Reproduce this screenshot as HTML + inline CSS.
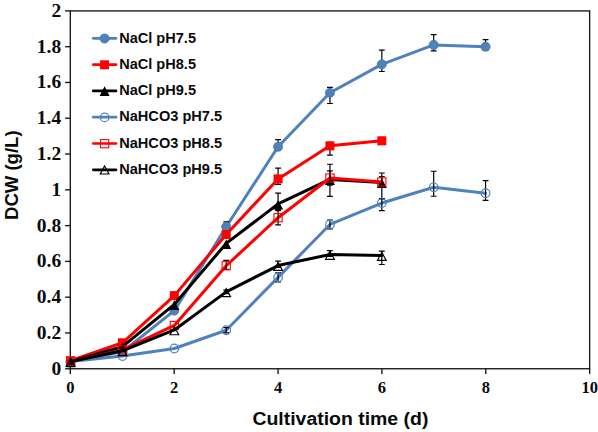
<!DOCTYPE html>
<html><head><meta charset="utf-8"><title>DCW chart</title>
<style>
html,body{margin:0;padding:0;background:#fff;}
body{width:598px;height:432px;overflow:hidden;}
svg{display:block;}
.tk{font-family:"Liberation Serif",serif;font-weight:bold;font-size:19.5px;fill:#0a0a0a;}
.tx{font-family:"Liberation Serif",serif;font-weight:bold;font-size:16.5px;fill:#0a0a0a;}
.lg{font-family:"Liberation Sans",sans-serif;font-weight:bold;font-size:14px;fill:#0a0a0a;}
.ti{font-family:"Liberation Sans",sans-serif;font-weight:bold;font-size:18.3px;fill:#0a0a0a;}
</style></head><body>
<svg width="598" height="432" viewBox="0 0 598 432">
<rect x="0" y="0" width="598" height="432" fill="#ffffff"/>

<g stroke="#161616" stroke-width="1.35" fill="none" stroke-linecap="butt">
<rect x="70.3" y="10.9" width="519.35" height="357.85"/>
<line x1="65.10" y1="368.75" x2="70.30" y2="368.75"/>
<line x1="65.10" y1="332.96" x2="70.30" y2="332.96"/>
<line x1="65.10" y1="297.18" x2="70.30" y2="297.18"/>
<line x1="65.10" y1="261.39" x2="70.30" y2="261.39"/>
<line x1="65.10" y1="225.61" x2="70.30" y2="225.61"/>
<line x1="65.10" y1="189.82" x2="70.30" y2="189.82"/>
<line x1="65.10" y1="154.04" x2="70.30" y2="154.04"/>
<line x1="65.10" y1="118.25" x2="70.30" y2="118.25"/>
<line x1="65.10" y1="82.47" x2="70.30" y2="82.47"/>
<line x1="65.10" y1="46.68" x2="70.30" y2="46.68"/>
<line x1="65.10" y1="10.90" x2="70.30" y2="10.90"/>
<line x1="70.30" y1="368.75" x2="70.30" y2="373.95"/>
<line x1="174.17" y1="368.75" x2="174.17" y2="373.95"/>
<line x1="278.04" y1="368.75" x2="278.04" y2="373.95"/>
<line x1="381.91" y1="368.75" x2="381.91" y2="373.95"/>
<line x1="485.78" y1="368.75" x2="485.78" y2="373.95"/>
<line x1="589.65" y1="368.75" x2="589.65" y2="373.95"/>
</g>
<text class="tk" x="61.2" y="374.75" text-anchor="end">0</text>
<text class="tk" x="61.2" y="338.96" text-anchor="end">0.2</text>
<text class="tk" x="61.2" y="303.18" text-anchor="end">0.4</text>
<text class="tk" x="61.2" y="267.39" text-anchor="end">0.6</text>
<text class="tk" x="61.2" y="231.61" text-anchor="end">0.8</text>
<text class="tk" x="61.2" y="195.82" text-anchor="end">1</text>
<text class="tk" x="61.2" y="160.04" text-anchor="end">1.2</text>
<text class="tk" x="61.2" y="124.25" text-anchor="end">1.4</text>
<text class="tk" x="61.2" y="88.47" text-anchor="end">1.6</text>
<text class="tk" x="61.2" y="52.68" text-anchor="end">1.8</text>
<text class="tk" x="61.2" y="16.90" text-anchor="end">2</text>
<text class="tx" x="70.30" y="393.4" text-anchor="middle">0</text>
<text class="tx" x="174.17" y="393.4" text-anchor="middle">2</text>
<text class="tx" x="278.04" y="393.4" text-anchor="middle">4</text>
<text class="tx" x="381.91" y="393.4" text-anchor="middle">6</text>
<text class="tx" x="485.78" y="393.4" text-anchor="middle">8</text>
<text class="tx" x="589.65" y="393.4" text-anchor="middle">10</text>
<polyline points="70.60,361.55 122.47,351.72 174.34,310.62 226.21,226.81 278.08,146.75 329.95,92.78 381.82,64.37 433.69,44.89 485.56,46.68" fill="none" stroke="#4f81bd" stroke-width="3.0" stroke-linejoin="round" stroke-linecap="round"/>
<path d="M226.21,221.80V230.38M223.31,221.80H229.11M223.31,230.38H229.11M278.08,139.60V150.32M275.18,139.60H280.98M275.18,150.32H280.98M329.95,87.42V103.50M327.05,87.42H332.85M327.05,103.50H332.85M381.82,50.07V71.52M378.92,50.07H384.72M378.92,71.52H384.72M433.69,34.70V50.79M430.79,34.70H436.59M430.79,50.79H436.59M485.56,39.53V50.25M482.66,39.53H488.46M482.66,50.25H488.46" stroke="#000" stroke-width="1.2" fill="none"/>
<circle cx="70.60" cy="361.55" r="4.60" fill="#4f81bd" stroke="#4573a7" stroke-width="0.7"/>
<circle cx="122.47" cy="351.72" r="4.60" fill="#4f81bd" stroke="#4573a7" stroke-width="0.7"/>
<circle cx="174.34" cy="310.62" r="4.60" fill="#4f81bd" stroke="#4573a7" stroke-width="0.7"/>
<circle cx="226.21" cy="226.81" r="4.60" fill="#4f81bd" stroke="#4573a7" stroke-width="0.7"/>
<circle cx="278.08" cy="146.75" r="4.60" fill="#4f81bd" stroke="#4573a7" stroke-width="0.7"/>
<circle cx="329.95" cy="92.78" r="4.60" fill="#4f81bd" stroke="#4573a7" stroke-width="0.7"/>
<circle cx="381.82" cy="64.37" r="4.60" fill="#4f81bd" stroke="#4573a7" stroke-width="0.7"/>
<circle cx="433.69" cy="44.89" r="4.60" fill="#4f81bd" stroke="#4573a7" stroke-width="0.7"/>
<circle cx="485.56" cy="46.68" r="4.60" fill="#4f81bd" stroke="#4573a7" stroke-width="0.7"/>
<polyline points="70.60,360.65 122.47,342.78 174.34,295.61 226.21,234.49 278.08,178.91 329.95,145.85 381.82,140.85" fill="none" stroke="#ff0000" stroke-width="3.0" stroke-linejoin="round" stroke-linecap="round"/>
<path d="M278.08,168.19V184.28M275.18,168.19H280.98M275.18,184.28H280.98M329.95,142.28V155.15M327.05,142.28H332.85M327.05,155.15H332.85M381.82,137.28V144.43M378.92,137.28H384.72M378.92,144.43H384.72" stroke="#000" stroke-width="1.2" fill="none"/>
<rect x="66.10" y="356.15" width="9.00" height="9.00" fill="#ff0000"/>
<rect x="117.97" y="338.28" width="9.00" height="9.00" fill="#ff0000"/>
<rect x="169.84" y="291.11" width="9.00" height="9.00" fill="#ff0000"/>
<rect x="221.71" y="229.99" width="9.00" height="9.00" fill="#ff0000"/>
<rect x="273.58" y="174.41" width="9.00" height="9.00" fill="#ff0000"/>
<rect x="325.45" y="141.35" width="9.00" height="9.00" fill="#ff0000"/>
<rect x="377.32" y="136.35" width="9.00" height="9.00" fill="#ff0000"/>
<polyline points="70.60,361.55 122.47,346.71 174.34,304.36 226.21,243.42 278.08,203.93 329.95,179.45 381.82,182.49" fill="none" stroke="#000000" stroke-width="3.0" stroke-linejoin="round" stroke-linecap="round"/>
<path d="M278.08,193.21V209.29M275.18,193.21H280.98M275.18,209.29H280.98M329.95,164.26V196.43M327.05,164.26H332.85M327.05,196.43H332.85M381.82,173.02V198.93M378.92,173.02H384.72M378.92,198.93H384.72" stroke="#000" stroke-width="1.2" fill="none"/>
<polygon points="70.60,357.55 75.60,367.15 65.60,367.15" fill="#000000"/>
<polygon points="122.47,342.71 127.47,352.31 117.47,352.31" fill="#000000"/>
<polygon points="174.34,300.36 179.34,309.96 169.34,309.96" fill="#000000"/>
<polygon points="226.21,239.42 231.21,249.02 221.21,249.02" fill="#000000"/>
<polygon points="278.08,199.93 283.08,209.53 273.08,209.53" fill="#000000"/>
<polygon points="329.95,175.45 334.95,185.05 324.95,185.05" fill="#000000"/>
<polygon points="381.82,178.49 386.82,188.09 376.82,188.09" fill="#000000"/>
<polyline points="70.60,361.55 122.47,356.01 174.34,348.50 226.21,330.27 278.08,277.38 329.95,224.48 381.82,203.04 433.69,187.31 485.56,193.21" fill="none" stroke="#4f81bd" stroke-width="3.0" stroke-linejoin="round" stroke-linecap="round"/>
<path d="M226.21,327.59V332.95M223.31,327.59H229.11M223.31,332.95H229.11M278.08,272.91V281.85M275.18,272.91H280.98M275.18,281.85H280.98M329.95,220.02V228.95M327.05,220.02H332.85M327.05,228.95H332.85M381.82,198.57V210.54M378.92,198.57H384.72M378.92,210.54H384.72M433.69,171.23V196.25M430.79,171.23H436.59M430.79,196.25H436.59M485.56,180.70V200.36M482.66,180.70H488.46M482.66,200.36H488.46" stroke="#000" stroke-width="1.2" fill="none"/>
<circle cx="70.60" cy="361.55" r="4.30" fill="none" stroke="#4f81bd" stroke-width="1.2"/>
<circle cx="122.47" cy="356.01" r="4.30" fill="none" stroke="#4f81bd" stroke-width="1.2"/>
<circle cx="174.34" cy="348.50" r="4.30" fill="none" stroke="#4f81bd" stroke-width="1.2"/>
<circle cx="226.21" cy="330.27" r="4.30" fill="none" stroke="#4f81bd" stroke-width="1.2"/>
<circle cx="278.08" cy="277.38" r="4.30" fill="none" stroke="#4f81bd" stroke-width="1.2"/>
<circle cx="329.95" cy="224.48" r="4.30" fill="none" stroke="#4f81bd" stroke-width="1.2"/>
<circle cx="381.82" cy="203.04" r="4.30" fill="none" stroke="#4f81bd" stroke-width="1.2"/>
<circle cx="433.69" cy="187.31" r="4.30" fill="none" stroke="#4f81bd" stroke-width="1.2"/>
<circle cx="485.56" cy="193.21" r="4.30" fill="none" stroke="#4f81bd" stroke-width="1.2"/>
<polyline points="70.60,361.55 122.47,349.93 174.34,325.45 226.21,265.76 278.08,217.69 329.95,178.02 381.82,181.95" fill="none" stroke="#ff0000" stroke-width="3.0" stroke-linejoin="round" stroke-linecap="round"/>
<path d="M226.21,260.40V269.34M223.31,260.40H229.11M223.31,269.34H229.11M278.08,210.54V224.84M275.18,210.54H280.98M275.18,224.84H280.98M329.95,170.87V185.17M327.05,170.87H332.85M327.05,185.17H332.85M381.82,176.59V187.31M378.92,176.59H384.72M378.92,187.31H384.72" stroke="#000" stroke-width="1.2" fill="none"/>
<rect x="66.50" y="357.45" width="8.20" height="8.20" fill="none" stroke="#ff0000" stroke-width="1.1"/>
<rect x="118.37" y="345.83" width="8.20" height="8.20" fill="none" stroke="#ff0000" stroke-width="1.1"/>
<rect x="170.24" y="321.35" width="8.20" height="8.20" fill="none" stroke="#ff0000" stroke-width="1.1"/>
<rect x="222.11" y="261.66" width="8.20" height="8.20" fill="none" stroke="#ff0000" stroke-width="1.1"/>
<rect x="273.98" y="213.59" width="8.20" height="8.20" fill="none" stroke="#ff0000" stroke-width="1.1"/>
<rect x="325.85" y="173.92" width="8.20" height="8.20" fill="none" stroke="#ff0000" stroke-width="1.1"/>
<rect x="377.72" y="177.85" width="8.20" height="8.20" fill="none" stroke="#ff0000" stroke-width="1.1"/>
<polyline points="70.60,361.55 122.47,350.82 174.34,329.92 226.21,291.85 278.08,265.58 329.95,254.50 381.82,255.58" fill="none" stroke="#000000" stroke-width="3.0" stroke-linejoin="round" stroke-linecap="round"/>
<path d="M226.21,290.07V293.64M223.31,290.07H229.11M223.31,293.64H229.11M278.08,261.12V267.37M275.18,261.12H280.98M275.18,267.37H280.98M329.95,250.57V256.29M327.05,250.57H332.85M327.05,256.29H332.85M381.82,251.11V264.51M378.92,251.11H384.72M378.92,264.51H384.72" stroke="#000" stroke-width="1.2" fill="none"/>
<polygon points="70.60,358.35 75.00,366.35 66.20,366.35" fill="none" stroke="#000000" stroke-width="1.15" stroke-linejoin="miter"/>
<polygon points="122.47,347.62 126.87,355.62 118.07,355.62" fill="none" stroke="#000000" stroke-width="1.15" stroke-linejoin="miter"/>
<polygon points="174.34,326.72 178.74,334.72 169.94,334.72" fill="none" stroke="#000000" stroke-width="1.15" stroke-linejoin="miter"/>
<polygon points="226.21,288.65 230.61,296.65 221.81,296.65" fill="none" stroke="#000000" stroke-width="1.15" stroke-linejoin="miter"/>
<polygon points="278.08,262.38 282.48,270.38 273.68,270.38" fill="none" stroke="#000000" stroke-width="1.15" stroke-linejoin="miter"/>
<polygon points="329.95,251.30 334.35,259.30 325.55,259.30" fill="none" stroke="#000000" stroke-width="1.15" stroke-linejoin="miter"/>
<polygon points="381.82,252.38 386.22,260.38 377.42,260.38" fill="none" stroke="#000000" stroke-width="1.15" stroke-linejoin="miter"/>
<line x1="93.3" y1="38.30" x2="116" y2="38.30" stroke="#4f81bd" stroke-width="2.7" stroke-linecap="round"/>
<circle cx="104.60" cy="38.50" r="4.60" fill="#4f81bd" stroke="#4573a7" stroke-width="0.7"/>
<text class="lg" x="119.2" y="42.50" textLength="76.8" lengthAdjust="spacingAndGlyphs">NaCl pH7.5</text>
<line x1="93.3" y1="64.60" x2="116" y2="64.60" stroke="#ff0000" stroke-width="2.7" stroke-linecap="round"/>
<rect x="100.10" y="60.30" width="9.00" height="9.00" fill="#ff0000"/>
<text class="lg" x="119.2" y="68.80" textLength="76.8" lengthAdjust="spacingAndGlyphs">NaCl pH8.5</text>
<line x1="93.3" y1="90.90" x2="116" y2="90.90" stroke="#000000" stroke-width="2.7" stroke-linecap="round"/>
<polygon points="104.60,86.30 109.60,95.90 99.60,95.90" fill="#000000"/>
<text class="lg" x="119.2" y="95.10" textLength="76.8" lengthAdjust="spacingAndGlyphs">NaCl pH9.5</text>
<line x1="93.3" y1="117.20" x2="116" y2="117.20" stroke="#4f81bd" stroke-width="2.7" stroke-linecap="round"/>
<circle cx="104.60" cy="117.40" r="4.30" fill="none" stroke="#4f81bd" stroke-width="1.2"/>
<text class="lg" x="119.2" y="121.40" textLength="102.9" lengthAdjust="spacingAndGlyphs">NaHCO3 pH7.5</text>
<line x1="93.3" y1="143.50" x2="116" y2="143.50" stroke="#ff0000" stroke-width="2.7" stroke-linecap="round"/>
<rect x="100.50" y="139.60" width="8.20" height="8.20" fill="none" stroke="#ff0000" stroke-width="1.1"/>
<text class="lg" x="119.2" y="147.70" textLength="102.9" lengthAdjust="spacingAndGlyphs">NaHCO3 pH8.5</text>
<line x1="93.3" y1="169.80" x2="116" y2="169.80" stroke="#000000" stroke-width="2.7" stroke-linecap="round"/>
<polygon points="104.60,166.00 109.00,174.00 100.20,174.00" fill="none" stroke="#000000" stroke-width="1.15" stroke-linejoin="miter"/>
<text class="lg" x="119.2" y="174.00" textLength="102.9" lengthAdjust="spacingAndGlyphs">NaHCO3 pH9.5</text>
<text class="ti" x="252.4" y="425.2" textLength="176" lengthAdjust="spacingAndGlyphs">Cultivation time (d)</text>
<text class="ti" transform="translate(18.3,220) rotate(-90)" textLength="89.6" lengthAdjust="spacingAndGlyphs">DCW (g/L)</text>
</svg></body></html>
